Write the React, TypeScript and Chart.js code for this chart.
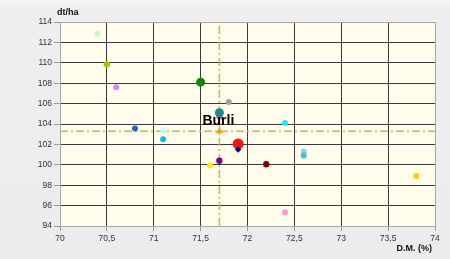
import React, { useEffect, useRef } from "react";
import { Chart, registerables } from "chart.js";

Chart.register(...registerables);

// D.M. (%) on x, yield dt/ha on y
const dmValues = [70.4, 70.5, 70.6, 70.8, 71.1, 71.1, 71.5, 71.8, 71.7, 71.7, 71.7, 71.9, 71.9, 71.7, 71.6, 72.2, 72.4, 72.6, 72.6, 72.4, 73.8];
const yieldValues = [112.85, 109.85, 107.6, 103.55, 103.4, 102.5, 108.1, 106.15, 104.7, 105.1, 103.3, 102.05, 101.5, 100.4, 99.95, 100.05, 104.1, 101.3, 100.9, 95.35, 98.9];
const pointColors = ["#c8f7c8", "#99cc00", "#cc88ff", "#3060d0", "#d0fbfb", "#14b8f0", "#0a8a0a", "#a0a0a0", "#e040e0", "#1a8a8a", "#ff9900", "#ff1010", "#000080", "#800080", "#ffee00", "#800000", "#10f0f8", "#99ccff", "#33cccc", "#ff99cc", "#ffcc00"];
const pointSizes = [3, 3.2, 3, 3, 3, 3, 4.5, 3, 3, 4.5, 4, 5.5, 3.2, 3.2, 3, 3.2, 3, 3, 3, 3, 3];
const pointShapes = ["circle", "circle", "circle", "circle", "circle", "circle", "circle", "circle", "circle", "circle", "triangle", "circle", "rectRot", "circle", "circle", "circle", "circle", "circle", "circle", "circle", "circle"];
const labelIndex = 9;
const labelText = "Burli";

const meanDm = 71.7;
const meanYield = 103.3;

const xMin = 70, xMax = 74, xStep = 0.5;
const yMin = 94, yMax = 114, yStep = 2;
const xTitle = "D.M. (%)";
const yTitle = "dt/ha";

const bgPlugin = {
  id: "bgPlugin",
  beforeDraw(chart: any) {
    const { ctx, chartArea } = chart;
    ctx.save();
    ctx.fillStyle = "#fffcec";
    ctx.fillRect(chartArea.left, chartArea.top, chartArea.right - chartArea.left, chartArea.bottom - chartArea.top);
    ctx.restore();
  },
  afterDraw(chart: any) {
    const { ctx, chartArea } = chart;
    ctx.save();
    ctx.fillStyle = "#111";
    ctx.font = "bold 9px 'Liberation Sans'";
    ctx.textBaseline = "middle";
    ctx.textAlign = "left";
    ctx.fillText(yTitle, chartArea.left - 3, chartArea.top - 9);
    ctx.textAlign = "right";
    ctx.fillText(xTitle, chartArea.right - 3, chartArea.bottom + 23);
    // data label
    const meta = chart.getDatasetMeta(0);
    const el = meta.data[labelIndex];
    if (el) {
      ctx.font = "bold 14px 'Liberation Sans'";
      ctx.textAlign = "center";
      ctx.fillStyle = "#000";
      ctx.fillText(labelText, el.x - 1, el.y + 8);
    }
    ctx.restore();
  },
};

export default function App() {
  const ref = useRef<HTMLCanvasElement>(null);
  useEffect(() => {
    document.body.style.margin = "0";
    const points = dmValues.map((x, i) => ({ x, y: yieldValues[i] }));
    const lineColor = "#a8cc3c";
    const chart = new Chart(ref.current as HTMLCanvasElement, {
      type: "scatter",
      data: {
        datasets: [
          {
            type: "scatter",
            data: points,
            pointBackgroundColor: pointColors,
            pointBorderColor: pointColors,
            pointBorderWidth: 0,
            pointRadius: pointSizes,
            pointStyle: pointShapes as any,
            order: 0,
          } as any,
          {
            type: "line",
            data: [{ x: meanDm, y: yMin }, { x: meanDm, y: yMax }],
            borderColor: lineColor,
            borderWidth: 1.5,
            borderDash: [8, 3, 2, 3],
            pointRadius: 0,
            order: 1,
          },
          {
            type: "line",
            data: [{ x: xMin, y: meanYield }, { x: xMax, y: meanYield }],
            borderColor: lineColor,
            borderWidth: 1.5,
            borderDash: [8, 3, 2, 3],
            pointRadius: 0,
            order: 1,
          },
        ],
      },
      options: {
        animation: false,
        responsive: false,
        layout: { padding: { left: 0, top: 22, right: 15, bottom: 0 } },
        plugins: { legend: { display: false }, tooltip: { enabled: false } },
        scales: {
          x: {
            type: "linear",
            min: xMin,
            max: xMax,
            afterFit(scale: any) { scale.height = 33; },
            ticks: {
              stepSize: xStep,
              color: "#333",
              font: { family: "'Liberation Sans'", size: 8.5 },
              padding: 3,
              maxRotation: 0,
              callback: (v: any) => String(v).replace(".", ","),
            },
            grid: {
              color: (c: any) => (c.tick && (c.tick.value === xMin || c.tick.value === xMax) ? "#a8a8a8" : "#3a3a3a"),
              tickColor: "#999",
              tickLength: 5,
              lineWidth: 1,
            },
            border: { display: true, color: "#a8a8a8" },
          },
          y: {
            min: yMin,
            max: yMax,
            afterFit(scale: any) { scale.width = 60; },
            ticks: {
              stepSize: yStep,
              color: "#333",
              font: { family: "'Liberation Sans'", size: 8.5 },
              padding: 2,
            },
            grid: {
              color: (c: any) => (c.tick && (c.tick.value === yMin || c.tick.value === yMax) ? "#a8a8a8" : "#3a3a3a"),
              tickColor: "#999",
              tickLength: 6,
              lineWidth: 1,
            },
            border: { display: true, color: "#a8a8a8" },
          },
        },
      },
      plugins: [bgPlugin],
    });
    return () => chart.destroy();
  }, []);
  return (
    <div style={{ width: 450, height: 259, background: "linear-gradient(#f6f6f6 0px, #efefef 6px, #ececec 100%)" }}>
      <canvas ref={ref} width={450} height={259} style={{ display: "block" }} />
    </div>
  );
}
